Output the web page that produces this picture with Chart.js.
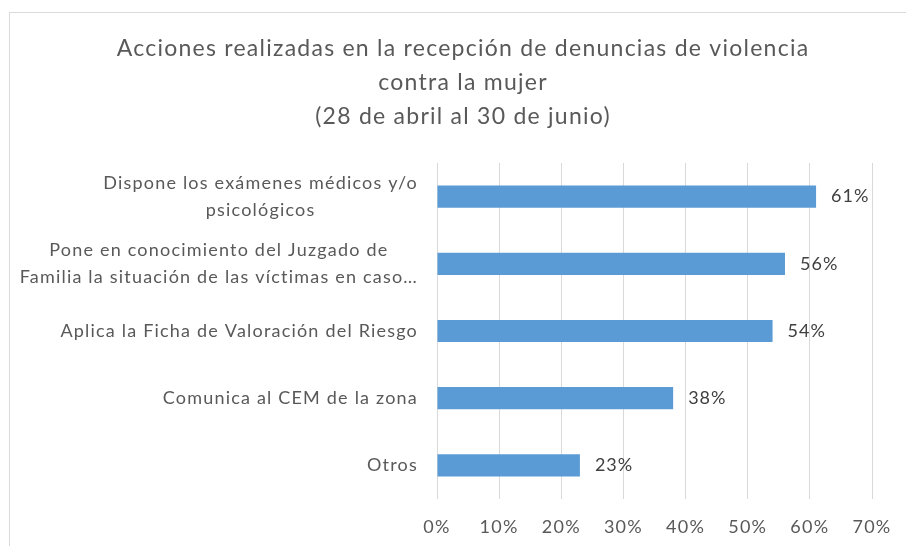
<!DOCTYPE html>
<html>
<head>
<meta charset="utf-8">
<script src="https://cdn.jsdelivr.net/npm/chart.js@4"></script>
<style>
  html, body { margin: 0; padding: 0; background: #fff; overflow: hidden; }
  #frame { position: absolute; left: 9px; top: 12px; width: 910px; height: 540px; border: 1px solid #d9d9d9; }
  #box { position: absolute; left: 0; top: 0; width: 906px; height: 533px; }
</style>
</head>
<body>
<div id="frame"><div id="box"><canvas id="chart"></canvas></div></div>
<script>
const titleLines = [
  'Acciones realizadas en la recepción de denuncias de violencia',
  'contra la mujer',
  '(28 de abril al 30 de junio)'
];
const categories = [
  ['Dispone los exámenes médicos y/o', 'psicológicos'],
  ['Pone en conocimiento del Juzgado de', 'Familia la situación de las víctimas en caso…'],
  ['Aplica la Ficha de Valoración del Riesgo'],
  ['Comunica al CEM de la zona'],
  ['Otros']
];
const values = [61, 56, 54, 38, 23];
const xTicks = [0, 10, 20, 30, 40, 50, 60, 70];

const FONT = 'Lato';
const textColor = '#595959';

// the Excel text is spaced out a little wider than Lato
const spacing = {
  id: 'spacing',
  beforeDraw(chart) { chart.ctx.letterSpacing = '1.25px'; }
};

// y labels: lines centred inside their block, block right-aligned to the axis
const catLabels = {
  id: 'catLabels',
  afterDraw(chart) {
    const ctx = chart.ctx;
    const y = chart.scales.y;
    const right = chart.chartArea.left - 19;
    const lh = 27;
    ctx.save();
    ctx.letterSpacing = '1.2px';
    ctx.font = '18px ' + FONT;
    ctx.fillStyle = textColor;
    ctx.textBaseline = 'middle';
    ctx.textAlign = 'center';
    categories.forEach((lines, i) => {
      const w = Math.max(...lines.map(l => ctx.measureText(l).width));
      const cx = right - w / 2;
      const cy = y.getPixelForTick(i);
      const top = cy - (lines.length - 1) * lh / 2;
      lines.forEach((l, j) => ctx.fillText(l, cx, top + j * lh));
    });
    ctx.restore();
  }
};

const valueLabels = {
  id: 'valueLabels',
  afterDatasetsDraw(chart) {
    const ctx = chart.ctx;
    const meta = chart.getDatasetMeta(0);
    ctx.save();
    ctx.letterSpacing = '1px';
    ctx.font = '18px ' + FONT;
    ctx.fillStyle = '#404040';
    ctx.textBaseline = 'middle';
    ctx.textAlign = 'left';
    meta.data.forEach((bar, i) => {
      ctx.fillText(values[i] + '%', bar.x + 15, bar.y);
    });
    ctx.restore();
  }
};

new Chart(document.getElementById('chart'), {
  type: 'bar',
  data: {
    labels: categories.map(c => c.join(' ')),
    datasets: [{
      data: values,
      backgroundColor: '#5b9bd5',
      barPercentage: 0.33,
      categoryPercentage: 1
    }]
  },
  plugins: [spacing, catLabels, valueLabels],
  options: {
    indexAxis: 'y',
    responsive: true,
    maintainAspectRatio: false,
    animation: false,
    layout: { padding: 0 },
    plugins: {
      legend: { display: false },
      tooltip: { enabled: false },
      title: {
        display: true,
        text: titleLines,
        color: textColor,
        font: { family: FONT, size: 23, weight: 'normal', lineHeight: '34px' },
        padding: { top: 19, bottom: 29 }
      }
    },
    scales: {
      x: {
        min: 0,
        max: 70,
        afterBuildTicks(scale) { scale.ticks = xTicks.map(v => ({ value: v })); },
        afterFit(scale) {
          scale.height = 47;
          scale.paddingRight = 44;  // keeps the title centred on the whole frame
        },
        grid: { color: '#d9d9d9', lineWidth: 1, drawTicks: false },
        border: { display: false },
        ticks: {
          padding: 17,
          color: textColor,
          font: { family: FONT, size: 18 },
          callback: v => v + '%'
        }
      },
      y: {
        afterFit(scale) { scale.width = 427; },
        grid: { display: false },
        border: { display: false },
        ticks: { display: false }
      }
    }
  }
});
</script>
</body>
</html>
